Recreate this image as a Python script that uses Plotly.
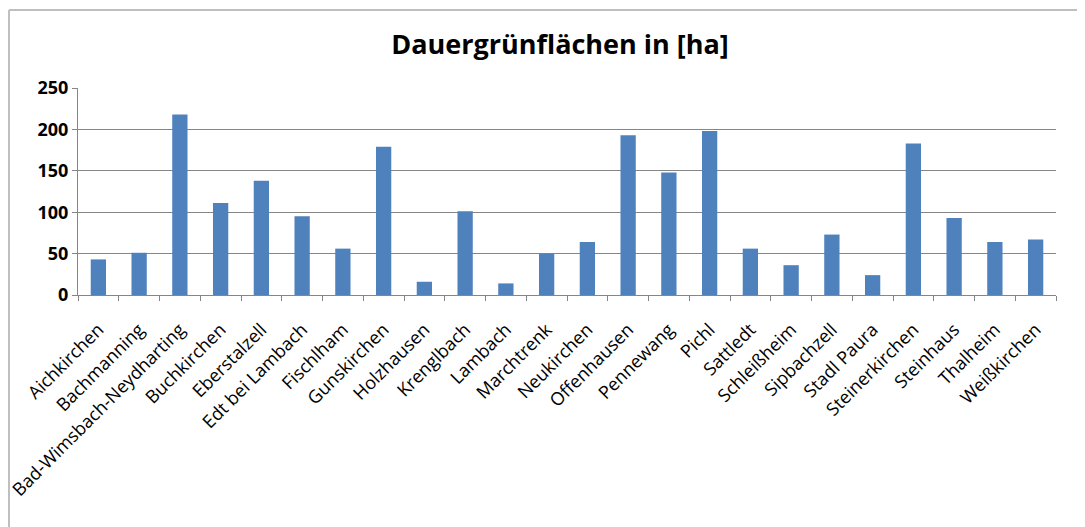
import plotly.graph_objects as go

categories = ["Aichkirchen", "Bachmanning", "Bad-Wimsbach-Neydharting", "Buchkirchen",
              "Eberstalzell", "Edt bei Lambach", "Fischlham", "Gunskirchen", "Holzhausen",
              "Krenglbach", "Lambach", "Marchtrenk", "Neukirchen", "Offenhausen",
              "Pennewang", "Pichl", "Sattledt", "Schleißheim", "Sipbachzell", "Stadl Paura",
              "Steinerkirchen", "Steinhaus", "Thalheim", "Weißkirchen"]
values = [43, 51, 218, 111, 138, 95, 56, 179, 16, 101, 14, 50, 64, 193,
          148, 198, 56, 36, 73, 24, 183, 93, 64, 67]
y_ticks = [0, 50, 100, 150, 200, 250]

W, H = 1085, 527
OFF = 8  # page body margin offset
L, R, T, B = 78 - OFF, 1056 - OFF, 88 - OFF, 295 - OFF

fig = go.Figure(go.Bar(x=categories, y=values, marker_color="#4F81BD",
                       marker_line_width=0))

def px2paper_x(px):
    return (px - OFF - L) / (R - L)

def px2paper_y(py):
    return (B - (py - OFF)) / (B - T)

fig.add_shape(type="line", xref="paper", yref="paper",
              x0=px2paper_x(9), x1=px2paper_x(1100), y0=px2paper_y(10), y1=px2paper_y(10),
              line=dict(color="#BFBFBF", width=2))
fig.add_shape(type="line", xref="paper", yref="paper",
              x0=px2paper_x(9), x1=px2paper_x(9), y0=px2paper_y(10), y1=px2paper_y(540),
              line=dict(color="#BFBFBF", width=2))

fig.update_layout(
    width=W, height=H,
    margin=dict(l=L, r=W - R, t=T, b=H - B, pad=0),
    paper_bgcolor="white", plot_bgcolor="white",
    bargap=0.625,
    showlegend=False,
    title=dict(text="<b>Dauergrünflächen in [ha]</b>", x=(560 - OFF) / W, xanchor="center",
               y=1 - (45 - OFF) / H, yanchor="middle",
               font=dict(family="Open Sans", size=27, color="black")),
    xaxis=dict(type="category", tickangle=-45, showgrid=False, automargin=False,
               showline=True, linecolor="#868686", linewidth=1,
               ticks="outside", tickson="boundaries", ticklen=5, tickcolor="#868686",
               ticklabelstandoff=16,
               tickfont=dict(family="Open Sans", size=18, color="black")),
    yaxis=dict(range=[0, 250], tickvals=y_ticks, showgrid=True, gridcolor="#868686",
               gridwidth=1, showline=True, linecolor="#868686", linewidth=1,
               ticks="outside", ticklen=5, tickcolor="#868686", automargin=False,
               tickfont=dict(family="Open Sans", size=18, color="black", weight="bold"),
               zeroline=False),
)

fig.write_html("out.html")
